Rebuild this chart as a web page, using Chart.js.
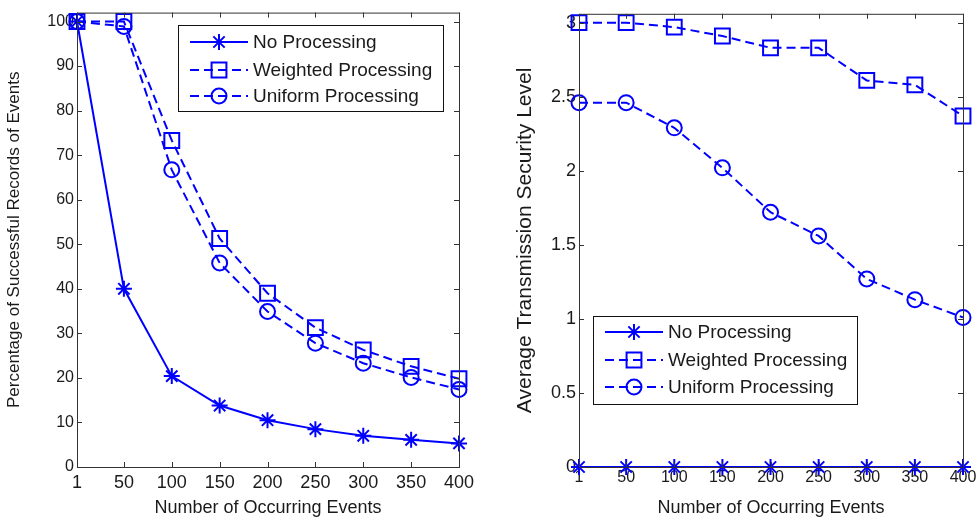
<!DOCTYPE html>
<html>
<head>
<meta charset="utf-8">
<script src="https://cdn.jsdelivr.net/npm/chart.js@4.4.1/dist/chart.umd.min.js"></script>
<style>
    body { margin: 0; background: #fff; }
    .panel { position: absolute; top: 0; width: 490px; height: 521px; }
</style>
</head>
<body>
<div class="panel" style="left:0"><canvas id="leftChart" width="490" height="521"></canvas></div>
<div class="panel" style="left:490px"><canvas id="rightChart" width="490" height="521"></canvas></div>
<script>
// x values shared by both panels
const events = [1, 50, 100, 150, 200, 250, 300, 350, 400];
const seriesNames = ['No Processing', 'Weighted Processing', 'Uniform Processing'];

// left panel: percentage of successful records
const recordsNone = [100, 40, 20.4, 13.8, 10.5, 8.5, 7.0, 6.1, 5.3];
const recordsWeighted = [100, 100, 73.3, 51.3, 39.0, 31.3, 26.3, 22.6, 19.8];
const recordsUniform = [100, 98.9, 66.7, 45.8, 34.9, 27.8, 23.3, 20.1, 17.4];
const recordsTicks = [0, 10, 20, 30, 40, 50, 60, 70, 80, 90, 100];

// right panel: average transmission security level
const securityNone = [0, 0, 0, 0, 0, 0, 0, 0, 0];
const securityWeighted = [3.0, 3.0, 2.97, 2.91, 2.83, 2.83, 2.61, 2.58, 2.37];
const securityUniform = [2.46, 2.46, 2.29, 2.02, 1.72, 1.56, 1.27, 1.13, 1.01];
const securityTicks = [0, 0.5, 1, 1.5, 2, 2.5, 3];

const BLUE = '#0000ff';
const FONT = 'Liberation Sans, Arial, sans-serif';
const TEXT = '#1a1a1a';

function makeDatasets(none, weighted, uniform) {
    const styles = [
        { dash: [], point: 'star', r: 8 },
        { dash: [9, 5], point: 'rect', r: 10.5 },
        { dash: [9, 5], point: 'circle', r: 7.5 }
    ];
    return [none, weighted, uniform].map(function(vals, i) {
        return {
            label: seriesNames[i],
            data: events.map(function(e, j) { return { x: e, y: vals[j] }; }),
            borderColor: BLUE,
            backgroundColor: 'rgba(0,0,0,0)',
            borderWidth: 2,
            borderDash: styles[i].dash,
            pointStyle: styles[i].point,
            pointRadius: styles[i].r,
            pointBorderColor: BLUE,
            pointBackgroundColor: 'rgba(0,0,0,0)',
            pointBorderWidth: 2,
            tension: 0,
            clip: false
        };
    });
}

// box around the axes plus inward tick marks on all four sides
const boxPlugin = {
    id: 'matlabBox',
    afterDatasetsDraw(chart) {
        const ctx = chart.ctx, a = chart.chartArea;
        ctx.save();
        ctx.strokeStyle = '#333';
        ctx.lineWidth = 1;
        ctx.strokeRect(a.left + 0.5, a.top + 0.5, a.right - a.left, a.bottom - a.top);
        const len = 5;
        ctx.beginPath();
        chart.scales.x.ticks.forEach(function(t) {
            const px = Math.round(chart.scales.x.getPixelForValue(t.value)) + 0.5;
            ctx.moveTo(px, a.bottom); ctx.lineTo(px, a.bottom - len);
            ctx.moveTo(px, a.top); ctx.lineTo(px, a.top + len);
        });
        chart.scales.y.ticks.forEach(function(t) {
            const py = Math.round(chart.scales.y.getPixelForValue(t.value)) + 0.5;
            ctx.moveTo(a.left, py); ctx.lineTo(a.left + len, py);
            ctx.moveTo(a.right, py); ctx.lineTo(a.right - len, py);
        });
        ctx.stroke();
        ctx.restore();
    }
};

// legend drawn inside the plot like matlab does
const boxLegend = {
    id: 'boxLegend',
    afterDraw(chart, args, opts) {
        const ctx = chart.ctx;
        ctx.save();
        ctx.fillStyle = '#fff';
        ctx.fillRect(opts.x, opts.y, opts.w, opts.h);
        ctx.strokeStyle = '#111';
        ctx.lineWidth = 1;
        ctx.strokeRect(opts.x + 0.5, opts.y + 0.5, opts.w, opts.h);
        ctx.font = '19px ' + FONT;
        ctx.textBaseline = 'middle';
        chart.data.datasets.forEach(function(ds, i) {
            const y = opts.y + opts.rows[i];
            const x0 = opts.x + 12, x1 = opts.x + 70;
            ctx.strokeStyle = ds.borderColor;
            ctx.lineWidth = ds.borderWidth;
            ctx.setLineDash(ds.borderDash);
            ctx.beginPath();
            ctx.moveTo(x0, y); ctx.lineTo(x1, y);
            ctx.stroke();
            ctx.setLineDash([]);
            ctx.fillStyle = 'rgba(0,0,0,0)';
            ctx.strokeStyle = ds.pointBorderColor;
            ctx.lineWidth = ds.pointBorderWidth;
            Chart.helpers.drawPoint(ctx, {
                pointStyle: ds.pointStyle, radius: ds.pointRadius, rotation: 0, borderWidth: ds.pointBorderWidth
            }, (x0 + x1) / 2, y);
            ctx.fillStyle = TEXT;
            ctx.fillText(ds.label, opts.x + 75, y + 1);
        });
        ctx.restore();
    }
};

function makeChart(id, cfg) {
    return new Chart(document.getElementById(id), {
        type: 'line',
        data: { datasets: cfg.datasets },
        options: {
            responsive: false,
            animation: false,
            devicePixelRatio: 1,
            layout: { padding: cfg.pad },
            plugins: {
                legend: { display: false },
                tooltip: { enabled: false },
                boxLegend: cfg.legend
            },
            scales: {
                x: {
                    type: 'linear',
                    min: 1,
                    max: 400,
                    afterBuildTicks: function(scale) {
                        scale.ticks = events.map(function(v) { return { value: v }; });
                    },
                    afterFit: function(scale) { scale.height = 54; },
                    grid: { display: false, drawTicks: false },
                    border: { display: false },
                    ticks: {
                        padding: cfg.xTickPad, color: TEXT, font: { family: FONT, size: cfg.xTickSize },
                        maxRotation: 0, autoSkip: false,
                        callback: function(v) { return String(v); }
                    },
                    title: {
                        display: true, text: 'Number of Occurring Events',
                        color: TEXT, font: { family: FONT, size: 18 }, padding: { top: 0, bottom: 2 }
                    }
                },
                y: {
                    type: 'linear',
                    min: 0,
                    max: cfg.yMax,
                    afterBuildTicks: function(scale) {
                        scale.ticks = cfg.yTicks.map(function(v) { return { value: v }; });
                    },
                    afterFit: function(scale) { scale.width = cfg.yWidth; },
                    grid: { display: false, drawTicks: false },
                    border: { display: false },
                    ticks: {
                        padding: 3, color: TEXT, font: { family: FONT, size: cfg.yTickSize }, autoSkip: false,
                        callback: function(v) { return String(v); }
                    },
                    title: {
                        display: true, text: cfg.yTitle,
                        color: TEXT, font: { family: FONT, size: cfg.yTitleSize }, padding: cfg.yTitlePad
                    }
                }
            }
        },
        plugins: [boxPlugin, boxLegend]
    });
}

makeChart('leftChart', {
    datasets: makeDatasets(recordsNone, recordsWeighted, recordsUniform),
    yTicks: recordsTicks,
    yMax: 102,
    yTitle: 'Percentage of Successful Records of Events',
    yTitleSize: 17,
    yTitlePad: { top: 4, bottom: 0 },
    pad: { left: 0, top: 8, right: 31, bottom: 0 },
    yWidth: 77,
    xTickPad: 5,
    xTickSize: 18,
    yTickSize: 16,
    legend: { x: 178, y: 25, w: 265, h: 86, rows: [17, 45, 71] }
});

makeChart('rightChart', {
    datasets: makeDatasets(securityNone, securityWeighted, securityUniform),
    yTicks: securityTicks,
    yMax: 3.06,
    yTitle: 'Average Transmission Security Level',
    yTitleSize: 21,
    yTitlePad: { top: 3, bottom: 0 },
    pad: { left: 20, top: 8, right: 17, bottom: 0 },
    yWidth: 69,
    xTickPad: 1,
    xTickSize: 16,
    yTickSize: 18,
    legend: { x: 103, y: 316, w: 264, h: 88, rows: [16, 44, 71] }
});
</script>
</body>
</html>
